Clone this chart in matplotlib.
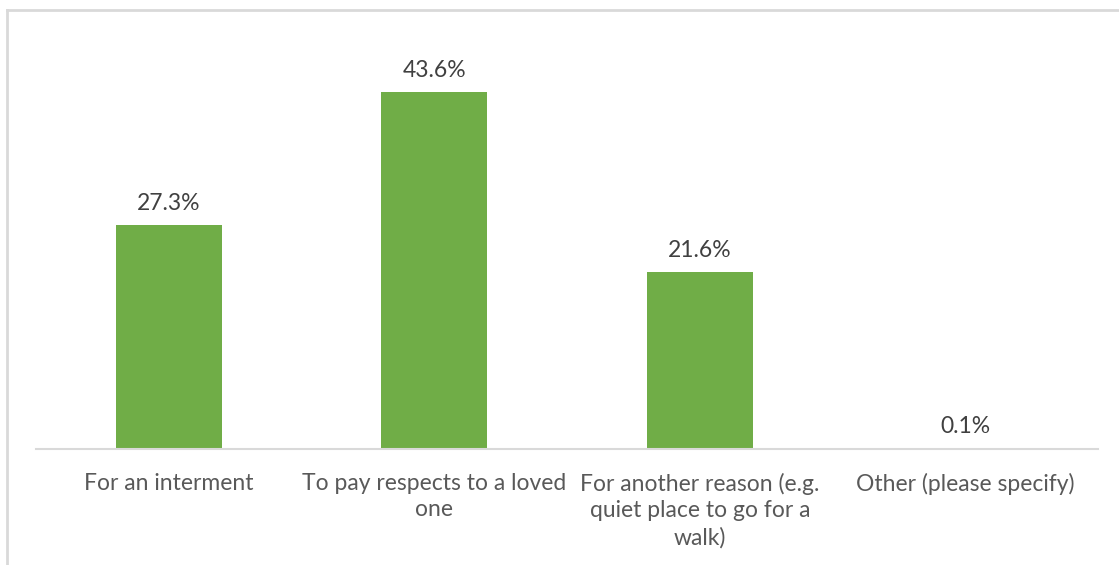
import matplotlib
matplotlib.use("Agg")
import matplotlib.pyplot as plt
from matplotlib.lines import Line2D

categories = ["For an interment",
              "To pay respects to a loved\none",
              "For another reason (e.g.\nquiet place to go for a\nwalk)",
              "Other (please specify)"]
values = [27.3, 43.6, 21.6, 0.1]
value_labels = ["27.3%", "43.6%", "21.6%", "0.1%"]

plt.rcParams['font.family'] = ['Lato', 'DejaVu Sans']

W, H = 1119, 565
fig = plt.figure(figsize=(W/100, H/100), dpi=100)
fig.patch.set_facecolor("white")

# outer chart frame (partly cropped)
fig.add_artist(Line2D([7/W, 7/W], [0, 1 - 10/H], transform=fig.transFigure,
                      color="#d9d9d9", lw=2))
fig.add_artist(Line2D([7/W, 1], [1 - 10/H, 1 - 10/H], transform=fig.transFigure,
                      color="#d9d9d9", lw=2))

left, right = 36/W, 1098/W
bottom, top = 1 - 449/H, 1 - 30/H
ax = fig.add_axes([left, bottom, right - left, top - bottom])
ax.set_facecolor("none")

x = list(range(len(categories)))
ax.bar(x, values, width=0.4, color="#70ad47")
ax.set_xlim(-0.5, len(categories) - 0.5)
ax.set_ylim(0, (449 - 30) / 8.19)

for xi, v, lab in zip(x, values, value_labels):
    ax.annotate(lab, (xi, v), xytext=(0, 15.5), textcoords="offset points",
                ha="center", va="center", fontsize=16.5, color="#404040")

for s in ["top", "right", "left"]:
    ax.spines[s].set_visible(False)
ax.spines["bottom"].set_color("#d9d9d9")
ax.spines["bottom"].set_linewidth(1.5)
ax.set_yticks([])
ax.set_xticks(x)
ax.set_xticklabels(categories, fontsize=16.5, color="#595959", linespacing=1.32)
ax.tick_params(axis="x", length=0, pad=17)

fig.savefig("out.png", dpi=100)
